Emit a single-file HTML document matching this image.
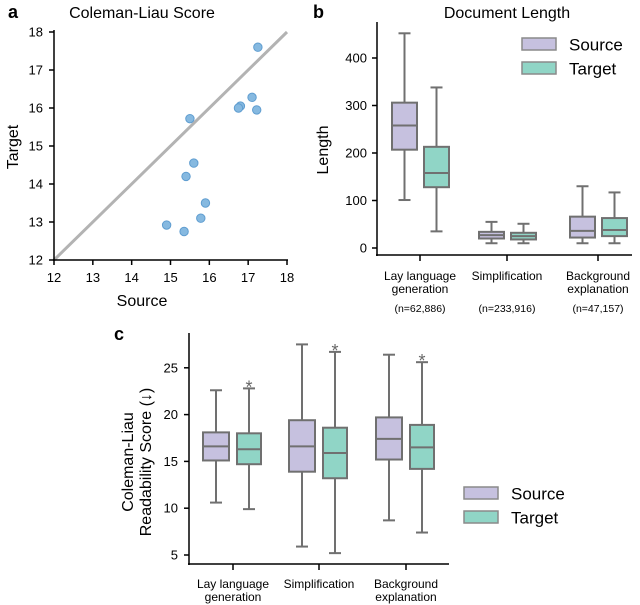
<!DOCTYPE html>
<html><head><meta charset="utf-8"><style>
body{margin:0;background:#fff}
svg{display:block;font-family:"Liberation Sans",sans-serif}
</style></head><body>
<svg id="s" width="640" height="605" viewBox="0 0 640 605"></svg>
<script>
// Panel a data
const scatterSource=[17.25,16.8,16.75,17.1,17.22,15.5,15.6,15.4,15.9,15.78,14.9,15.35];
const scatterTarget=[17.6,16.05,16.0,16.28,15.95,15.72,14.55,14.2,13.5,13.1,12.92,12.75];
const scatterTicks=[12,13,14,15,16,17,18];
// Panel b data: [whiskerLow,q1,median,q3,whiskerHigh]
const tasks=["Lay language|generation","Simplification","Background|explanation"];
const taskCounts=["(n=62,886)","(n=233,916)","(n=47,157)"];
const lenSource=[[101,207,258,306,452],[10,20,27,34,55],[10,22,36,66,130]];
const lenTarget=[[35,128,158,213,338],[10,18,25,32,51],[10,25,38,63,117]];
const lenTicks=[0,100,200,300,400];
// Panel c data
const clSource=[[10.6,15.1,16.6,18.1,22.6],[5.9,13.9,16.6,19.4,27.5],[8.7,15.2,17.4,19.7,26.4]];
const clTarget=[[9.9,14.7,16.3,18.0,22.8],[5.2,13.2,15.9,18.6,26.7],[7.4,14.2,16.5,18.9,25.6]];
const clTicks=[5,10,15,20,25];

const S=document.getElementById('s');const NS='http://www.w3.org/2000/svg';
function el(t,a,txt){const e=document.createElementNS(NS,t);for(const k in a)e.setAttribute(k,a[k]);if(txt!=null)e.textContent=txt;S.appendChild(e);return e;}
const PUR='#c6c1df',TEA='#90d5c6',STK='#707070';

// ---- Panel a
const ax=v=>54+(v-12)*(233/6), ay=v=>260-(v-12)*(228/6);
let e;
e=el('text',{x:8,y:18,'font-size':18,'font-weight':'bold'},'a');

e=el('text',{x:142,y:18,'font-size':16,'text-anchor':'middle'},'Coleman-Liau Score');

e=el('line',{x1:ax(12),y1:ay(12),x2:ax(18),y2:ay(18),stroke:'#b3b3b3','stroke-width':3});

el('line',{x1:54,y1:30,x2:54,y2:261,stroke:'#000','stroke-width':1.5});
el('line',{x1:53,y1:260,x2:288,y2:260,stroke:'#000','stroke-width':1.5});
scatterTicks.forEach(t=>{
 el('line',{x1:ax(t),y1:260,x2:ax(t),y2:265,stroke:'#000','stroke-width':1.5});
 e=el('text',{x:ax(t),y:282,'font-size':13,'text-anchor':'middle'},t);
 
 el('line',{x1:49,y1:ay(t),x2:54,y2:ay(t),stroke:'#000','stroke-width':1.5});
 e=el('text',{x:43,y:ay(t)+4.5,'font-size':13,'text-anchor':'end'},t);
 
});
scatterSource.forEach((s,i)=>{
 e=el('circle',{cx:ax(s),cy:ay(scatterTarget[i]),r:4.2,fill:'#86b9e0',stroke:'#5f9dd0','stroke-width':1});
 
});
e=el('text',{x:142,y:306,'font-size':16,'text-anchor':'middle'},'Source');

e=el('text',{x:0,y:0,'font-size':16,'text-anchor':'middle',transform:'translate(18,147) rotate(-90)'},'Target');


function box(x,w,st,y,fill,name){
 const g=el('g',{});
 const add=(t,a)=>{const c=document.createElementNS(NS,t);for(const k in a)c.setAttribute(k,a[k]);g.appendChild(c);};
 const cx=x+w/2;
 add('line',{x1:cx,y1:y(st[0]),x2:cx,y2:y(st[4]),stroke:STK,'stroke-width':2});
 add('line',{x1:cx-6,y1:y(st[0]),x2:cx+6,y2:y(st[0]),stroke:STK,'stroke-width':2});
 add('line',{x1:cx-6,y1:y(st[4]),x2:cx+6,y2:y(st[4]),stroke:STK,'stroke-width':2});
 add('rect',{x:x,y:y(st[3]),width:w,height:y(st[1])-y(st[3]),fill:fill,stroke:STK,'stroke-width':2});
 add('line',{x1:x,y1:y(st[2]),x2:x+w,y2:y(st[2]),stroke:STK,'stroke-width':2});
}
function cats(xs,yLab){
 tasks.forEach((t,i)=>{
  t.split('|').forEach((ln,j)=>{e=el('text',{x:xs[i],y:yLab+j*13,'font-size':12,'text-anchor':'middle'},ln);
  });
 });
}
// ---- Panel b
const by=v=>248-v*0.475;
const bx=[420,507,598];
e=el('text',{x:313,y:18,'font-size':18,'font-weight':'bold'},'b');

e=el('text',{x:507,y:18,'font-size':16,'text-anchor':'middle'},'Document Length');

el('line',{x1:377,y1:22,x2:377,y2:256,stroke:'#000','stroke-width':1.5});
el('line',{x1:376,y1:255,x2:632,y2:255,stroke:'#000','stroke-width':1.5});
lenTicks.forEach(t=>{el('line',{x1:372,y1:by(t),x2:377,y2:by(t),stroke:'#000','stroke-width':1.5});
 e=el('text',{x:367,y:by(t)+4.5,'font-size':13,'text-anchor':'end'},t);
 });
bx.forEach((x,i)=>{el('line',{x1:x,y1:255,x2:x,y2:261,stroke:'#000','stroke-width':1.5});
 box(x-28,25,lenSource[i],by,PUR,'box-source');box(x+4,25,lenTarget[i],by,TEA,'box-target');
 e=el('text',{x:x,y:312,'font-size':10.5,'text-anchor':'middle'},taskCounts[i]);
 });
cats(bx,280);
e=el('text',{x:0,y:0,'font-size':16,'text-anchor':'middle',transform:'translate(328,150) rotate(-90)'},'Length');

function legend(x,y1,y2){
 [[y1,PUR,'Source'],[y2,TEA,'Target']].forEach(([y,f,t])=>{
  e=el('rect',{x:x,y:y,width:34,height:12,fill:f,stroke:'#8a8a8a','stroke-width':1.5});
  
  e=el('text',{x:x+47,y:y+12.5,'font-size':17},t);
  
 });
}
legend(522,38,62);
// ---- Panel c
const cy=v=>555-(v-5)*9.36;
const cx=[233,319,406];
e=el('text',{x:114,y:340,'font-size':18,'font-weight':'bold'},'c');

el('line',{x1:189,y1:333,x2:189,y2:565,stroke:'#000','stroke-width':1.5});
el('line',{x1:188,y1:564,x2:449,y2:564,stroke:'#000','stroke-width':1.5});
clTicks.forEach(t=>{el('line',{x1:184,y1:cy(t),x2:189,y2:cy(t),stroke:'#000','stroke-width':1.5});
 e=el('text',{x:178,y:cy(t)+4.5,'font-size':13,'text-anchor':'end'},t);
 });
cx.forEach((x,i)=>{el('line',{x1:x,y1:564,x2:x,y2:570,stroke:'#000','stroke-width':1.5});
 box(x-30,26,clSource[i],cy,PUR,'box-source');box(x+4,24,clTarget[i],cy,TEA,'box-target');
 e=el('text',{x:x+16,y:cy(clTarget[i][4])+5,'font-size':18,'text-anchor':'middle',fill:'#666'},'*');
 });
cats(cx,588);
e=el('text',{x:0,y:0,'font-size':16,'text-anchor':'middle',transform:'translate(133,462) rotate(-90)'},'Coleman-Liau');

e=el('text',{x:0,y:0,'font-size':16,'text-anchor':'middle',transform:'translate(151,462) rotate(-90)'},'Readability Score (\u2193)');

legend(464,487,511);
</script>
</body></html>
